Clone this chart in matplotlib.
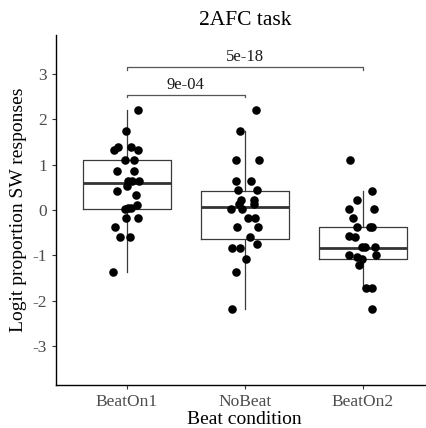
import matplotlib
matplotlib.use("Agg")
import matplotlib.pyplot as plt

plt.rcParams["font.family"] = ["Liberation Serif", "DejaVu Serif"]
plt.rcParams["axes.unicode_minus"] = False

# ---------------------------------------------------------------------------
# data
# ---------------------------------------------------------------------------
conditions = ["BeatOn1", "NoBeat", "BeatOn2"]

# box statistics per condition: q1, median, q3, lower whisker, upper whisker
q1 = [0.03, -0.64, -1.08]
med = [0.59, 0.07, -0.83]
q3 = [1.11, 0.42, -0.38]
whislo = [-1.36, -2.18, -1.71]
whishi = [2.20, 1.74, 0.42]

# jittered points: horizontal jitter offset and logit value
beaton1_jit = [0.094, -0.003, -0.109, -0.076, 0.037, 0.094, -0.014, 0.063, -0.081,
               0.057, 0.009, 0.048, 0.10, 0.003, -0.079, 0.08, 0.086, 0.009,
               -0.019, 0.037, -0.008, 0.094, -0.104, -0.059, 0.031, -0.121]
beaton1_val = [2.20, 1.73, 1.33, 1.39, 1.39, 1.32, 1.10, 1.10, 0.86,
               0.86, 0.63, 0.63, 0.63, 0.53, 0.42, 0.33, 0.11, 0.04,
               0.02, 0.04, -0.18, -0.18, -0.37, -0.60, -0.60, -1.37]

nobeat_jit = [0.092, -0.044, -0.072, 0.12, -0.072, 0.049, -0.058, 0.10, -0.03,
              0.08, -0.049, 0.078, -0.117, -0.024, 0.03, 0.086, -0.066, 0.109,
              0.044, -0.109, -0.044, 0.10, 0.01, -0.072, -0.109]
nobeat_val = [2.20, 1.74, 1.10, 1.10, 0.64, 0.64, 0.43, 0.43, 0.22,
              0.22, 0.13, 0.13, 0.02, 0.02, -0.18, -0.18, -0.37, -0.37,
              -0.60, -0.83, -0.83, -0.75, -1.08, -1.36, -2.18]

beaton2_jit = [-0.11, 0.076, -0.051, -0.113, 0.091, -0.079, -0.053, 0.059, 0.082,
               -0.121, -0.064, -0.011, 0.017, 0.102, -0.113, -0.051, -0.008, 0.116,
               -0.028, 0.025, 0.076, 0.076]
beaton2_val = [1.10, 0.42, 0.21, 0.02, 0.02, -0.18, -0.38, -0.38, -0.38,
               -0.58, -0.60, -0.82, -0.82, -0.82, -1.00, -1.04, -1.07, -1.00,
               -1.22, -1.71, -1.71, -2.18]

# significance brackets: (from, to, height, label)
brackets = [(1, 2, 2.53, "9e-04"), (1, 3, 3.14, "5e-18")]

# ---------------------------------------------------------------------------
# figure
# ---------------------------------------------------------------------------
fig = plt.figure(figsize=(4.26, 4.28), dpi=100)
ax = fig.add_axes([56 / 426, 43 / 428, 377.6 / 426, 350 / 428])

stats = []
for i in range(3):
    stats.append(dict(q1=q1[i], med=med[i], q3=q3[i],
                      whislo=whislo[i], whishi=whishi[i], fliers=[]))
ax.bxp(stats, positions=[1, 2, 3], widths=0.75, showcaps=False,
       showfliers=False, patch_artist=False,
       boxprops=dict(color="#3a3a3a", linewidth=0.9),
       whiskerprops=dict(color="#3a3a3a", linewidth=0.9),
       medianprops=dict(color="#333333", linewidth=2.0))

groups = [(beaton1_jit, beaton1_val), (nobeat_jit, nobeat_val), (beaton2_jit, beaton2_val)]
for i, (jit, val) in enumerate(groups):
    xs = [i + 1 + j for j in jit]
    ax.scatter(xs, val, s=38, color="black", zorder=3, linewidths=0)

for x0, x1, h, lab in brackets:
    ax.plot([x0, x0, x1, x1], [h - 0.05, h, h, h - 0.05], color="#555555", lw=0.9)
    ax.text((x0 + x1) / 2, h + 0.05, lab, ha="center", va="bottom",
            fontsize=12, color="#1a1a1a")

ax.set_xlim(0.4, 3.6)
ax.set_ylim(-3.85, 3.85)
ax.set_xticks([1, 2, 3])
ax.set_xticklabels(conditions)
ax.set_yticks([-3, -2, -1, 0, 1, 2, 3])
ax.tick_params(labelsize=12.5, labelcolor="#4d4d4d", color="#333333",
               length=3, width=0.8)
for side in ["top", "right"]:
    ax.spines[side].set_visible(False)
for side in ["left", "bottom"]:
    ax.spines[side].set_linewidth(1.0)

ax.set_xlabel("Beat condition", fontsize=14, labelpad=1)
ax.set_ylabel("Logit proportion SW responses", fontsize=14, labelpad=4)
ax.set_title("2AFC task", fontsize=15.5, pad=7)

fig.savefig("out.png", dpi=100)
